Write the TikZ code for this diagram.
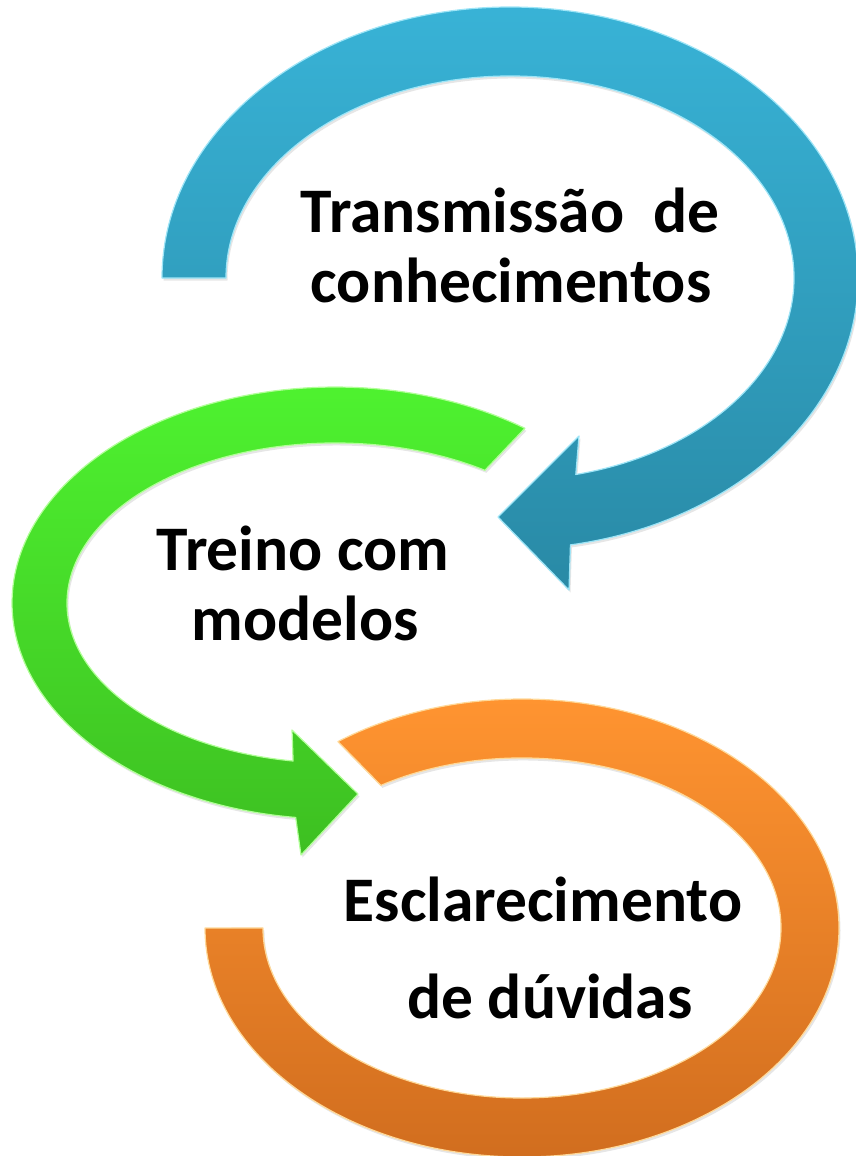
\documentclass[tikz,border=0pt]{standalone}
\usepackage{fontspec}
\setmainfont{Carlito}
\usepackage{tikz}
\usetikzlibrary{positioning,shadows}
\definecolor{CycleBlueTop}{rgb}{0.22, 0.70, 0.84}
\definecolor{CycleBlueBottom}{rgb}{0.16, 0.54, 0.65}
\definecolor{CycleBlueEdge}{rgb}{0.62, 0.90, 0.97}
\definecolor{CycleGreenTop}{rgb}{0.31, 0.96, 0.19}
\definecolor{CycleGreenBottom}{rgb}{0.24, 0.75, 0.13}
\definecolor{CycleGreenEdge}{rgb}{0.70, 1.0, 0.60}
\definecolor{CycleOrangeTop}{rgb}{1.0, 0.58, 0.19}
\definecolor{CycleOrangeBottom}{rgb}{0.82, 0.43, 0.12}
\definecolor{CycleOrangeEdge}{rgb}{1.0, 0.85, 0.60}
\tikzset{
	cycleband/.style={draw=#1Edge, line width=1.2pt, line join=round,
		top color=#1Top, bottom color=#1Bottom,
		drop shadow={opacity=0.2, shadow xshift=1.5pt, shadow yshift=-2.5pt}},
	cycletext/.style={font=\fontsize{63.5}{70}\selectfont\bfseries, anchor=base, inner sep=0pt}
}

\begin{document}
\begin{tikzpicture}[x=1pt, y=-1pt]
	\useasboundingbox (0,0) rectangle (856,1156);
	\path[cycleband=CycleBlue] (162,278) arc[start angle=180, end angle=440, x radius=348, y radius=271]
		-- (569,590) -- (498,517) -- (579,436) -- (575.8,474.5)
		arc[start angle=436.6, end angle=180, x radius=284, y radius=202] -- cycle;
	\path[cycleband=CycleGreen] (524.9,428.3) arc[start angle=-54, end angle=-263, x radius=323, y radius=216]
		-- (301,855) -- (358,794) -- (292,730) -- (293.1,761.0)
		arc[start angle=-261, end angle=-56, x radius=268, y radius=160] -- cycle;
	\path[cycleband=CycleOrange] (205,928) arc[start angle=180, end angle=-125.5, x radius=317, y radius=229]
		-- (380.9,785.4)
		arc[start angle=-123, end angle=180, x radius=259, y radius=170] -- cycle;
	\node[cycletext] (transmissao) at (510,232) {Transmissão~~de};
	\node[cycletext] (conhecimentos) at (511,302) {conhecimentos};
	\node[cycletext] (treino) at (303,570) {Treino com};
	\node[cycletext] (modelos) at (305,640) {modelos};
	\node[cycletext] (esclarecimento) at (543,921) {Esclarecimento};
	\node[cycletext] (duvidas) at (550,1018) {de dúvidas};
\end{tikzpicture}
\end{document}
